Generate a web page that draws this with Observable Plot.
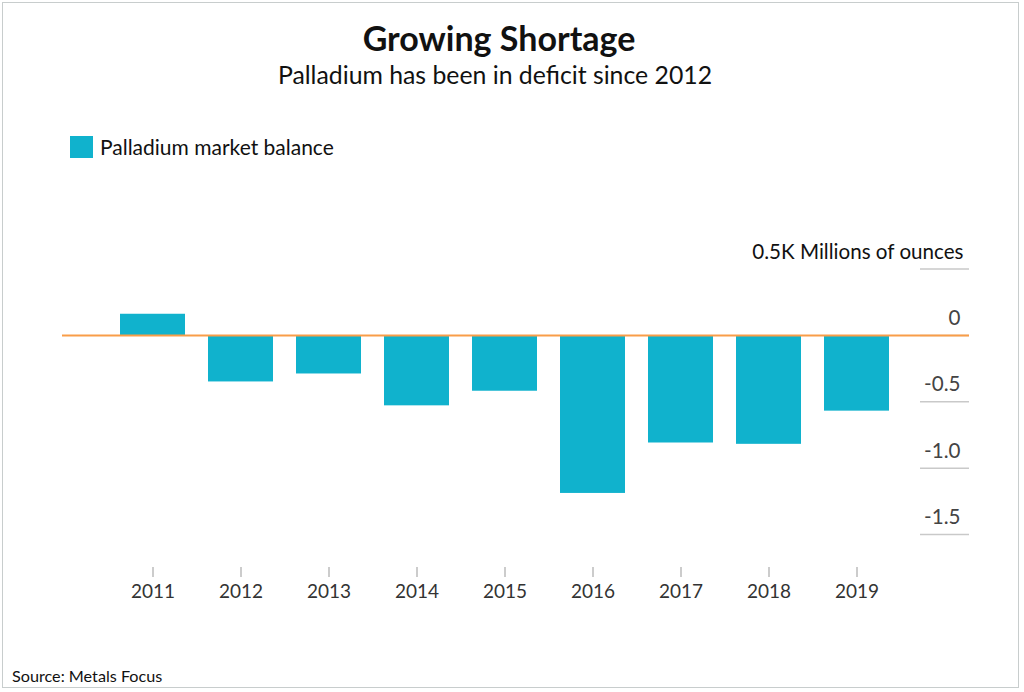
<!DOCTYPE html>
<html>
<head>
<meta charset="utf-8">
<script src="https://cdn.jsdelivr.net/npm/d3@7"></script>
<script src="https://cdn.jsdelivr.net/npm/@observablehq/plot@0.6"></script>
<style>
  html, body { margin: 0; padding: 0; background: #fff; }
  body { width: 1024px; height: 692px; position: relative; overflow: hidden; font-family: Lato, "Open Sans", sans-serif; }
  #frame { position: absolute; left: 2px; top: 2px; width: 1017px; height: 686px; border: 1px solid #c8cdcd; box-sizing: border-box; }
  #title { position: absolute; left: 0; width: 998px; top: 17px; text-align: center; font-size: 34px; font-weight: 700; color: #111; line-height: 42px; }
  #subtitle { position: absolute; left: 0; width: 990px; top: 60px; text-align: center; font-size: 24.8px; color: #111; line-height: 30px; }
  #legend { position: absolute; left: 70px; top: 135px; display: flex; align-items: center; font-size: 21px; color: #111; line-height: 24px; }
  #legend .sw { width: 23px; height: 22px; background: #10b2cd; margin-right: 7px; }
  #chart { position: absolute; left: 0; top: 170px; }
  #caption { position: absolute; left: 12px; top: 666px; font-size: 16.2px; color: #111; line-height: 20px; }
</style>
</head>
<body>
<div id="frame"></div>
<div id="title">Growing Shortage</div>
<div id="subtitle">Palladium has been in deficit since 2012</div>
<div id="legend"><div class="sw"></div><span>Palladium market balance</span></div>
<div id="chart"></div>
<div id="caption">Source: Metals Focus</div>
<script>
const years = ["2011","2012","2013","2014","2015","2016","2017","2018","2019"];
const balance = [0.16, -0.35, -0.29, -0.53, -0.42, -1.19, -0.81, -0.82, -0.57];
const yTicks = [0.5, 0, -0.5, -1.0, -1.5];
const yTickLabels = ["0.5K Millions of ounces", "0", "-0.5", "-1.0", "-1.5"];

const data = years.map((y, i) => ({year: y, value: balance[i]}));
const tickData = yTicks.map((v, i) => ({v, label: yTickLabels[i], first: i === 0}));

const plot = Plot.plot({
  width: 1024,
  height: 460,
  marginLeft: 62,
  marginRight: 55,
  marginTop: 60,
  marginBottom: 63,
  style: {fontFamily: "Lato, 'Open Sans', sans-serif", background: "transparent", overflow: "visible"},
  x: {domain: years, paddingInner: 0.26, paddingOuter: 0.767, align: 0.424, label: null},
  y: {domain: [-1.748, 0.791], label: null},
  marks: [
    Plot.tickY(tickData, {y: "v", stroke: "#c9c9c9", strokeWidth: 1.5, insetLeft: 858}),
    Plot.barY(data, {x: "year", y: "value", fill: "#10b2cd"}),
    Plot.ruleY([0], {stroke: "#f99d48", strokeWidth: 2}),
    Plot.text(tickData.filter(d => d.first), {y: "v", text: "label", frameAnchor: "right", textAnchor: "end", dx: -6, dy: -17, fontSize: 20.6, fill: "#111"}),
    Plot.text(tickData.filter(d => !d.first), {y: "v", text: "label", frameAnchor: "right", textAnchor: "end", dx: -9, dy: -17, fontSize: 20.6, fill: "#444"}),
    Plot.axisX({tickSize: 10, tickPadding: 7, fontSize: 19, stroke: "#999", color: "#333", label: null}),
    Plot.axisY({ticks: [], label: null})
  ]
});
document.getElementById("chart").appendChild(plot);
</script>
</body>
</html>
